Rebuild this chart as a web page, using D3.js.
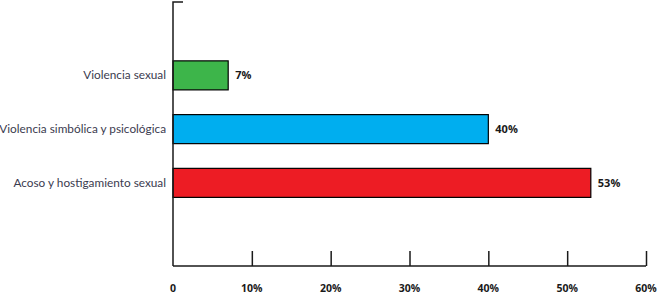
<!DOCTYPE html>
<html>
<head>
<meta charset="utf-8">
<script src="https://cdn.jsdelivr.net/npm/d3@7"></script>
<style>
  body { margin: 0; background: #fff; }
</style>
</head>
<body>
<div id="chart"></div>
<script>
// data
const categories = ["Violencia sexual", "Violencia simbólica y psicológica", "Acoso y hostigamiento sexual"];
const values = [7, 40, 53];
const barColors = ["#3db54a", "#00aeef", "#ed1c24"];
const tickValues = [0, 10, 20, 30, 40, 50, 60];

const W = 659, H = 294;
const X0 = 173, X1 = 646;
const AXIS_Y = 266, TOP_Y = 2;

const svg = d3.select("#chart").append("svg")
  .attr("width", W).attr("height", H);

const x = d3.scaleLinear().domain([0, 60]).range([X0, X1]);
const y = d3.scaleBand()
  .domain(categories)
  .range([48.5, 209.75])
  .paddingInner(0.46)
  .paddingOuter(0.23);

// bars
svg.selectAll("rect.bar")
  .data(categories)
  .enter().append("rect")
  .attr("class", "bar")
  .attr("x", x(0))
  .attr("y", d => y(d))
  .attr("width", (d, i) => x(values[i]) - x(0))
  .attr("height", y.bandwidth())
  .attr("fill", (d, i) => barColors[i])
  .attr("stroke", "#000")
  .attr("stroke-width", 1.2);

// value labels
svg.selectAll("text.val")
  .data(categories)
  .enter().append("text")
  .attr("class", "val")
  .attr("x", (d, i) => x(values[i]) + 7)
  .attr("y", d => y(d) + y.bandwidth() / 2 + 4)
  .attr("font-family", "'Open Sans', sans-serif")
  .attr("font-weight", 700)
  .attr("font-size", 11)
  .attr("fill", "#1a1a1a")
  .text((d, i) => values[i] + "%");

// category labels
svg.selectAll("text.cat")
  .data(categories)
  .enter().append("text")
  .attr("class", "cat")
  .attr("x", X0 - 7)
  .attr("y", d => y(d) + y.bandwidth() / 2 + 4)
  .attr("text-anchor", "end")
  .attr("font-family", "Lato, sans-serif")
  .attr("font-size", 11.8)
  .attr("fill", "#3b3b4f")
  .text(d => d);

// x axis (ticks point upward)
const xAxis = d3.axisTop(x)
  .tickValues(tickValues)
  .tickSize(15)
  .tickFormat("");
const gx = svg.append("g")
  .attr("transform", `translate(0, ${AXIS_Y})`)
  .call(xAxis);
gx.select(".domain").attr("d", `M${X0},0H${X1}`);
gx.selectAll("path, line").attr("stroke", "#1a1a1a").attr("stroke-width", 1.5);
gx.selectAll(".tick").filter(d => d === 0).select("line").remove();

// tick labels below axis
svg.selectAll("text.tick-label")
  .data(tickValues)
  .enter().append("text")
  .attr("class", "tick-label")
  .attr("x", d => x(d))
  .attr("y", 292)
  .attr("text-anchor", "middle")
  .attr("font-family", "'Open Sans', sans-serif")
  .attr("font-weight", 700)
  .attr("font-size", 10.5)
  .attr("fill", "#1a1a1a")
  .text(d => d === 0 ? "0" : d + "%");

// y axis with small cap at top
svg.append("path")
  .attr("d", `M${X0 + 10},${TOP_Y}H${X0}V${AXIS_Y}`)
  .attr("fill", "none")
  .attr("stroke", "#1a1a1a")
  .attr("stroke-width", 1.5);
</script>
</body>
</html>
